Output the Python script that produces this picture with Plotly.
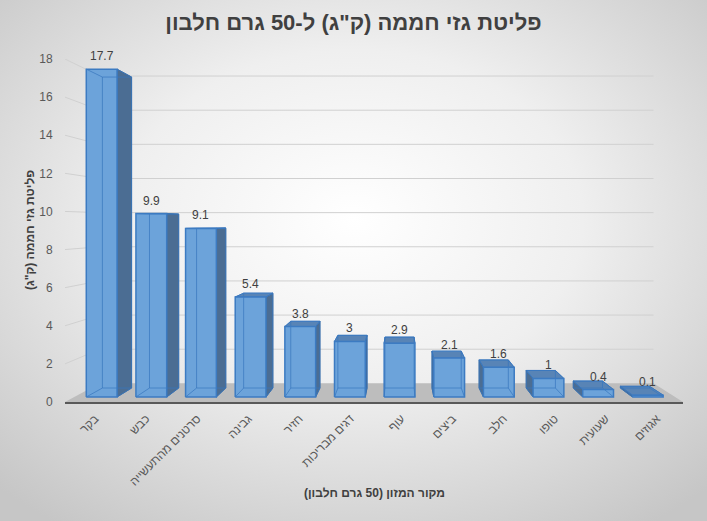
import base64
import plotly.graph_objects as go

# ---------------- data ----------------
categories = ["בקר", "כבש", "סרטנים מהתעשייה", "גבינה", "חזיר", "דגים מבריכות",
              "עוף", "ביצים", "חלב", "טופו", "שעועית", "אגוזים"]
values = [17.7, 9.9, 9.1, 5.4, 3.8, 3, 2.9, 2.1, 1.6, 1, 0.4, 0.1]
value_labels = ["17.7", "9.9", "9.1", "5.4", "3.8", "3", "2.9", "2.1", "1.6", "1", "0.4", "0.1"]
y_ticks = [0, 2, 4, 6, 8, 10, 12, 14, 16, 18]
RLM = "\u200f"
title_text = 'פליטת גזי חממה (ק"ג) ל-50 גרם חלבון'
y_title = 'פליטת גזי חממה (ק"ג)' + RLM
x_title = 'מקור המזון (50 גרם חלבון)' + RLM

# ---------------- geometry (perspective imitation) ----------------
W, H = 707, 521
ML, MR, MT, MB = 65, 24, 59, 119
XMIN, XMAX = -0.55, len(categories) - 0.45
YMIN, YMAX = 0, 18
VX, VY = 6.0, 9.4          # vanishing point in data coords
S_FLOOR = 1.0
S_BF, S_BB = 0.972, 0.922  # bar front / back depth scale
S_WALL = 0.896             # back wall depth scale
BAR_W = 0.62


def proj(x, y, s):
    return VX + (x - VX) * s, VY + (y - VY) * s


def add_poly(xs, ys, pts, close=True):
    for p in pts:
        xs.append(p[0]); ys.append(p[1])
    if close:
        xs.append(pts[0][0]); ys.append(pts[0][1])
    xs.append(None); ys.append(None)


fig = go.Figure()

# floor
fx, fy = [], []
add_poly(fx, fy, [proj(XMIN, 0, S_FLOOR), proj(XMAX, 0, S_FLOOR),
                  proj(XMAX, 0, S_WALL), proj(XMIN, 0, S_WALL)])
fig.add_trace(go.Scatter(x=fx, y=fy, mode="lines", fill="toself",
                         fillcolor="#BDBDBD", line=dict(width=0),
                         hoverinfo="skip", showlegend=False))

# gridlines (side wall diagonal + back wall)
gx, gy = [], []
for v in y_ticks[1:]:
    add_poly(gx, gy, [proj(XMIN, v, S_FLOOR), proj(XMIN, v, S_WALL),
                      proj(XMAX, v, S_WALL)], close=False)
fig.add_trace(go.Scatter(x=gx, y=gy, mode="lines",
                         line=dict(color="#D0D0D0", width=1),
                         hoverinfo="skip", showlegend=False))

side_x, side_y, top_x, top_y = [], [], [], []
front_x, front_y, edge_x, edge_y = [], [], [], []
for i, v in enumerate(values):
    x0, x1 = i - BAR_W / 2, i + BAR_W / 2
    A = proj(x0, 0, S_BF); B = proj(x1, 0, S_BF)
    C = proj(x1, v, S_BF); D = proj(x0, v, S_BF)
    E = proj(x0, 0, S_BB); F = proj(x1, 0, S_BB)
    G = proj(x1, v, S_BB); Hh = proj(x0, v, S_BB)
    if i < VX - 1e-9:
        add_poly(side_x, side_y, [B, F, G, C])
    elif i > VX + 1e-9:
        add_poly(side_x, side_y, [A, E, Hh, D])
    if v < VY:
        add_poly(top_x, top_y, [D, C, G, Hh])
    add_poly(front_x, front_y, [A, B, C, D])
    add_poly(edge_x, edge_y, [E, F, G, Hh])
    for p, q in ((A, E), (B, F), (C, G), (D, Hh)):
        add_poly(edge_x, edge_y, [p, q], close=False)

fig.add_trace(go.Scatter(x=side_x, y=side_y, mode="lines", fill="toself",
                         fillcolor="#4B6D93", line=dict(color="#3D6A9C", width=1),
                         hoverinfo="skip", showlegend=False))
fig.add_trace(go.Scatter(x=top_x, y=top_y, mode="lines", fill="toself",
                         fillcolor="#5884B6", line=dict(color="#3F7BC0", width=1),
                         hoverinfo="skip", showlegend=False))
fig.add_trace(go.Scatter(x=front_x, y=front_y, mode="lines", fill="toself",
                         fillcolor="#6CA3DA", line=dict(width=0),
                         hoverinfo="skip", showlegend=False))
fig.add_trace(go.Scatter(x=edge_x, y=edge_y, mode="lines",
                         line=dict(color="rgba(55,118,190,0.7)", width=1),
                         hoverinfo="skip", showlegend=False))
fig.add_trace(go.Scatter(x=front_x, y=front_y, mode="lines",
                         line=dict(color="#3C7BC2", width=1.5),
                         hoverinfo="skip", showlegend=False))

# data labels
for i, (v, lab) in enumerate(zip(values, value_labels)):
    px, py = proj(i, v, S_BF)
    fig.add_annotation(x=px, y=py, text=lab, showarrow=False,
                       yanchor="middle", xanchor="center", yshift=13,
                       font=dict(size=12, color="#404040"))

# axis titles
pw, ph = W - ML - MR, H - MT - MB
fig.add_annotation(xref="paper", yref="paper", x=(30 - ML) / pw, y=(H - MB - 230) / ph,
                   text=y_title, textangle=-90, showarrow=False,
                   xanchor="center", yanchor="middle",
                   font=dict(size=12, color="#404040", family="Liberation Sans", weight="bold"))
fig.add_annotation(xref="paper", yref="paper", x=(374 - ML) / pw, y=(H - MB - 493) / ph,
                   text=x_title, showarrow=False,
                   xanchor="center", yanchor="middle",
                   font=dict(size=12, color="#404040", family="Liberation Sans", weight="bold"))

# radial gradient background
svg = f'''<svg xmlns="http://www.w3.org/2000/svg" width="{W}" height="{H}">
<defs><radialGradient id="g" cx="50%" cy="42%" r="72%">
<stop offset="0" stop-color="#FFFFFF"/><stop offset="0.45" stop-color="#EFEFEF"/>
<stop offset="1" stop-color="#C6C6C6"/></radialGradient></defs>
<rect width="{W}" height="{H}" fill="url(#g)"/></svg>'''
src = "data:image/svg+xml;base64," + base64.b64encode(svg.encode()).decode()
fig.add_layout_image(dict(source=src, xref="paper", yref="paper",
                          x=-ML / pw, y=1 + MT / ph, sizex=W / pw, sizey=H / ph,
                          xanchor="left", yanchor="top", sizing="stretch", layer="below"))

fig.update_layout(
    width=W, height=H,
    margin=dict(l=ML, r=MR, t=MT, b=MB),
    paper_bgcolor="#E6E6E6", plot_bgcolor="rgba(0,0,0,0)",
    font=dict(family="Liberation Sans, Arial, sans-serif", color="#595959"),
    title=dict(text=title_text, x=0.5, xref="container", xanchor="center",
               y=1 - 22 / H, yref="container", yanchor="middle",
               font=dict(size=22, color="#404040", family="Liberation Sans", weight="bold")),
    xaxis=dict(range=[XMIN, XMAX], tickvals=list(range(len(categories))), ticktext=categories,
               tickangle=-45, showgrid=False, zeroline=False, showline=True,
               linecolor="#595959", linewidth=2, ticks="outside", ticklen=3,
               tickcolor="rgba(0,0,0,0)", tickfont=dict(size=12, color="#595959"),
               ticklabelshift=2, fixedrange=True),
    yaxis=dict(range=[YMIN, YMAX], tickvals=y_ticks, showgrid=False, zeroline=False,
               showline=False, ticks="outside", ticklen=9, tickcolor="rgba(0,0,0,0)",
               tickfont=dict(size=12, color="#595959"), fixedrange=True),
    showlegend=False,
)

fig.write_html("out.html", config={"displayModeBar": False},
               post_script="document.body.style.margin='0';document.body.style.overflow='hidden';")
